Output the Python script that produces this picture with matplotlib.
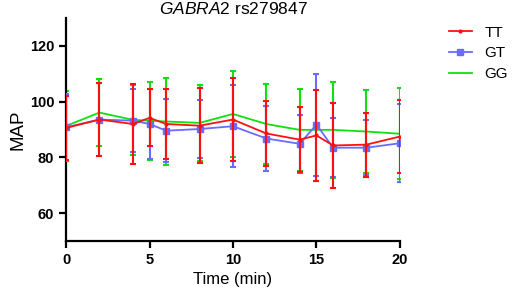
import numpy as np
import matplotlib
matplotlib.use("Agg")
import matplotlib.pyplot as plt
from matplotlib.lines import Line2D

plt.rcParams['font.family'] = ['Liberation Sans', 'DejaVu Sans']
plt.rcParams['mathtext.fontset'] = 'custom'
plt.rcParams['mathtext.it'] = 'Liberation Sans:italic'
plt.rcParams['mathtext.rm'] = 'Liberation Sans'

# time points (min)
time_all = [0, 2, 4, 5, 6, 8, 10, 12, 14, 15, 16, 18, 20]
time_gg = [0, 2, 4, 5, 6, 8, 10, 12, 14, 16, 18, 20]

# TT genotype
tt_mean = [90.6, 93.6, 92.0, 94.2, 92.0, 91.4, 93.6, 88.6, 86.4, 87.9, 84.3, 84.6, 87.5]
tt_sd = [11.4, 13.0, 14.3, 10.2, 12.4, 13.4, 15.0, 11.5, 11.6, 16.4, 15.2, 11.5, 13.0]

# GT genotype
gt_mean = [90.8, 93.6, 93.2, 92.0, 89.6, 90.2, 91.2, 86.8, 84.9, 91.8, 83.5, 83.5, 85.1]
gt_sd = [12.0, 13.0, 11.4, 12.4, 11.3, 10.3, 14.8, 11.6, 10.3, 18.3, 10.5, 9.8, 13.9]

# GG genotype
gg_mean = [91.3, 96.1, 93.5, 93.2, 92.9, 92.4, 95.6, 92.0, 89.9, 89.9, 89.3, 88.5]
gg_sd = [12.4, 12.0, 12.6, 14.0, 15.5, 13.7, 15.4, 14.3, 14.7, 17.2, 15.0, 16.4]

red, blue, green = '#FF1010', '#6B6BFF', '#10E010'

fig = plt.figure(figsize=(5.12, 3.01), dpi=100)
ax = fig.add_axes([0.129, 0.199, 0.652, 0.741])

ax.errorbar(time_all, tt_mean, yerr=tt_sd, color=red, lw=1.3, elinewidth=1.5,
            capsize=2.5, capthick=1.5, marker='o', markersize=2, zorder=4)
ax.errorbar(time_all, gt_mean, yerr=gt_sd, color=blue, lw=1.3, elinewidth=1.5,
            capsize=2.5, capthick=1.5, marker='s', markersize=4, zorder=3)
ax.errorbar(time_gg, gg_mean, yerr=gg_sd, color=green, lw=1.3, elinewidth=1.5,
            capsize=2.5, capthick=1.5, marker='', zorder=2)

ax.set_xlim(0, 20)
ax.set_ylim(50, 130)
ax.set_xticks([0, 5, 10, 15, 20])
ax.set_yticks([60, 80, 100, 120])
for s in ['top', 'right']:
    ax.spines[s].set_visible(False)
for s in ['left', 'bottom']:
    ax.spines[s].set_linewidth(1.6)
ax.tick_params(width=1.6, length=5, labelsize=10.5)
for lab in ax.get_xticklabels() + ax.get_yticklabels():
    lab.set_fontweight('bold')

ax.set_xlabel('Time (min)', fontsize=12, labelpad=4)
ax.set_ylabel('MAP', fontsize=13.5, labelpad=2)
ax.set_title(r'$\it{GABRA2}$ rs279847', fontsize=12.5, pad=3)

handles = [Line2D([], [], color=red, lw=1.3, marker='o', markersize=2),
           Line2D([], [], color=blue, lw=1.3, marker='s', markersize=4),
           Line2D([], [], color=green, lw=1.3)]
ax.legend(handles, ['TT', 'GT', 'GG'], loc='upper left', bbox_to_anchor=(1.105, 1.028),
          frameon=False, fontsize=11, handlelength=1.5, labelspacing=0.45,
          handletextpad=0.85)

fig.savefig('out.png', dpi=100)
